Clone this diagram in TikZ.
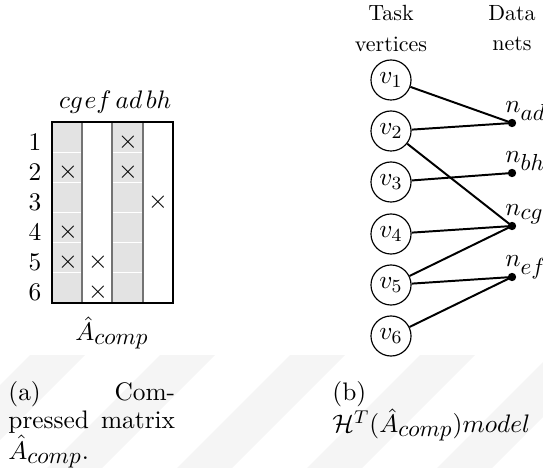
\documentclass[tikz,border=0pt,11pt]{standalone}
\usetikzlibrary{calc}
% letter subscripts are set a little larger than the default script size
\newcommand\lsub[1]{_{\mbox{\fontsize{10}{12}\selectfont$#1$}}}
\begin{document}
\begin{tikzpicture}[x=0.432pt,y=-0.432pt,
  vtx/.style={draw,circle,line width=0.5pt,minimum size=17.3pt,inner sep=0pt},
  net/.style={circle,fill=black,minimum size=3.6pt,inner sep=0pt},
  pin/.style={line width=0.85pt},
  netlab/.style={anchor=base west,inner sep=0pt},
  head/.style={font=\fontsize{9.5}{11}\selectfont,inner sep=0pt},
  collab/.style={anchor=base,inner sep=0pt},
  cellx/.style={inner sep=0pt},
  rowlab/.style={inner sep=0pt},
  sep/.style={draw=black!55,line width=0.9pt},
  band/.style={fill=black!4}]
\useasboundingbox (0,0) rectangle (543,468);

% faint diagonal bands in the lower part of the page
\begin{scope}
  \clip (0,355) rectangle (543,468);
  \foreach \s in {30,160,290,420,550,680}
    \fill[band] (\s,355) -- ++(55,0) -- ++(-113,113) -- ++(-55,0) -- cycle;
\end{scope}

% ---------- (a) compressed matrix ----------
\def\mt{122}\def\mb{303}
\def\rh{30.17}
% shaded columns cg and ad
\fill[black!11] (52,\mt) rectangle (82,\mb);
\fill[black!11] (112,\mt) rectangle (143,\mb);
% faint row rules inside the shaded columns
\foreach \i in {1,...,5}
  \draw[white,line width=0.4pt] (52,{\mt+\i*\rh}) -- (143,{\mt+\i*\rh});
% column separators
\foreach \xx in {82,112,143}
  \draw[sep] (\xx,\mt) -- (\xx,\mb);
\draw[line width=1pt] (52,\mt) rectangle (173,\mb);

% column labels
\node[collab] (ccg) at (71,109) {$cg$};
\node[collab] (cef) at (98,109) {$ef$};
\node[collab] (cad) at (129,109) {$ad$};
\node[collab] (cbh) at (158.5,109) {$bh$};

% row labels
\foreach \i in {1,...,6}
  \node[rowlab] (r\i) at (35,{142+(\i-1)*30}) {$\i$};

% nonzeros
\foreach \r/\c in {1/128,2/68,2/128,3/158,4/68,5/68,5/98,6/98}
  \node[cellx] at (\c,{142+(\r-1)*30}) {$\times$};

\node[inner sep=0pt] (aname) at (112,333) {$\hat{A}\lsub{comp}$};

% caption (a)
\node[anchor=base west,inner sep=0pt] (capa) at (8,400)
  {\parbox[t]{72pt}{\baselineskip=12.1pt
   (a)\hfill Com-\\ pressed\hfill matrix\\ $\hat{A}\lsub{comp}$.}};

% ---------- (b) hypergraph model ----------
\node[head] (hT) at (391,13) {Task};
\node[head] (hV) at (391,44) {vertices};
\node[head] (hD) at (512,13) {Data};
\node[head] (hN) at (512,44) {nets};

\foreach \i/\yy in {1/80,2/131,3/182,4/234,5/285,6/336}
  \node[vtx] (v\i) at (391,\yy) {$v_{\i}$};

\node[net] (nad) at (512,123) {};
\node[net] (nbh) at (512,173) {};
\node[net] (ncg) at (512,226) {};
\node[net] (nef) at (512,277) {};

\node[netlab] (lad) at (505,113) {$n\lsub{ad}$};
\node[netlab] (lbh) at (505,163) {$n\lsub{bh}$};
\node[netlab] (lcg) at (505,216) {$n\lsub{cg}$};
\node[netlab] (lef) at (505,267) {$n\lsub{ef}$};

\draw[pin] (v1) -- (nad.center);
\draw[pin] (v2) -- (nad.center);
\draw[pin] (v2) -- (ncg.center);
\draw[pin] (v3) -- (nbh.center);
\draw[pin] (v4) -- (ncg.center);
\draw[pin] (v5) -- (ncg.center);
\draw[pin] (v5) -- (nef.center);
\draw[pin] (v6) -- (nef.center);

% caption (b)
\node[anchor=base west,inner sep=0pt] (capb) at (332,400)
  {\parbox[t]{100pt}{\baselineskip=12.1pt
   (b)\\ $\mathcal{H}^T(\hat{A}\lsub{comp})model$}};
\end{tikzpicture}
\end{document}
